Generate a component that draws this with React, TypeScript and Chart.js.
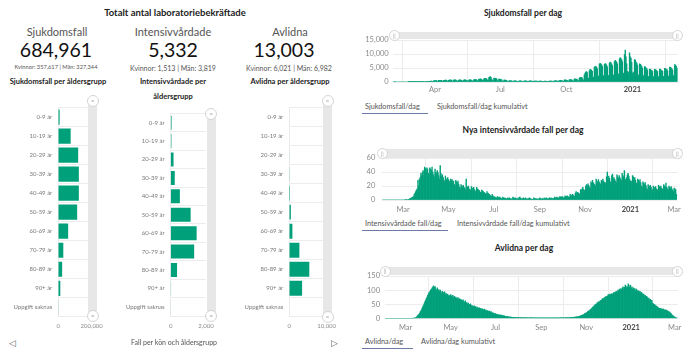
import React, { useEffect, useRef } from "react";
import { Chart, registerables } from "chart.js";
Chart.register(...registerables);

const FONT = "Lato, 'Open Sans', sans-serif";
const GREEN = "#00a07b";
const GRID = "#ececec";
const TICK = "#8a8a8a";

// ---------- age group data ----------
const ageGroups = ["0-9 år", "10-19 år", "20-29 år", "30-39 år", "40-49 år", "50-59 år", "60-69 år", "70-79 år", "80-89 år", "90+ år", "Uppgift saknas"];
const casesByAge = [8000, 74000, 119000, 123000, 123000, 113000, 59000, 30000, 23000, 12000, 1000];
const icuByAge = [50, 40, 160, 230, 520, 1130, 1470, 1330, 360, 20, 10];
const deathsByAge = [10, 10, 20, 60, 190, 420, 830, 2700, 5350, 3420, 5];

// ---------- daily data (first value = 2020-02-01, day 31 counted from 2020-01-01) ----------
const firstDay = 31;
const casesPerDay = [
  0, 0, 0, 0, 1, 0, 0,
  0, 0, 0, 0, 0, 0, 0,
  0, 0, 0, 0, 0, 0, 0,
  0, 0, 1, 2, 4, 3, 5,
  6, 4, 14, 25, 40, 55, 60,
  45, 40, 110, 160, 180, 150, 130,
  80, 70, 160, 170, 180, 160, 150,
  130, 110, 220, 260, 280, 300, 320,
  250, 200, 420, 480, 500, 520, 480,
  300, 260, 560, 600, 640, 620, 560,
  300, 260, 560, 640, 700, 680, 620,
  330, 290, 640, 720, 760, 720, 650,
  330, 300, 680, 740, 760, 700, 500,
  320, 300, 650, 720, 740, 700, 620,
  330, 300, 680, 750, 760, 720, 640,
  340, 320, 700, 760, 780, 740, 600,
  360, 340, 760, 820, 860, 820, 760,
  450, 420, 950, 1050, 1100, 1050, 950,
  550, 480, 1150, 1250, 1300, 1250, 1150,
  650, 600, 1600, 1800, 1900, 1700, 1000,
  500, 450, 1300, 1400, 1350, 1200, 1100,
  450, 400, 1000, 1050, 980, 900, 800,
  300, 250, 650, 700, 650, 600, 520,
  220, 180, 450, 480, 450, 420, 380,
  180, 160, 380, 400, 380, 350, 320,
  170, 150, 360, 400, 380, 360, 330,
  170, 150, 370, 410, 400, 370, 340,
  160, 150, 360, 390, 380, 350, 320,
  160, 140, 340, 370, 360, 330, 300,
  150, 130, 300, 330, 320, 300, 270,
  140, 120, 280, 310, 300, 280, 260,
  150, 130, 320, 360, 350, 330, 300,
  180, 160, 400, 440, 430, 410, 380,
  220, 200, 520, 580, 560, 530, 480,
  280, 250, 680, 740, 720, 680, 620,
  320, 290, 800, 860, 840, 800, 720,
  380, 350, 1000, 1100, 1080, 1000, 900,
  500, 450, 1400, 1600, 1700, 1650, 1500,
  800, 750, 2600, 3200, 3500, 3700, 3400,
  1400, 1300, 4000, 4500, 4400, 4200, 3800,
  1800, 1700, 5200, 5600, 5500, 5300, 4800,
  2200, 2000, 6400, 6700, 6500, 6200, 5600,
  2300, 2100, 6300, 6600, 6400, 6000, 5400,
  2400, 2200, 6800, 7100, 6900, 6500, 5900,
  2600, 2400, 7300, 7700, 7500, 7100, 6500,
  2900, 2700, 8300, 8700, 8400, 8000, 7200,
  3200, 3000, 9800, 11400, 9000, 6500, 3800,
  2600, 3500, 10400, 9000, 8500, 7000, 3000,
  3500, 3300, 8000, 7800, 7200, 6800, 6000,
  2600, 2400, 6500, 6300, 6000, 5500, 5000,
  2300, 2100, 5500, 5300, 5100, 4800, 4300,
  2000, 1800, 4600, 4500, 4300, 4100, 3800,
  1900, 1800, 4500, 4400, 4300, 4000, 3700,
  1900, 1700, 4600, 4500, 4300, 4100, 3800,
  2000, 1800, 4900, 4800, 4600, 4400, 4000,
  2100, 1900, 5300, 5200, 5000, 4700, 4300,
  2300, 2100, 6200, 6000, 5600, 5000,
];
const icuPerDay = [
  0, 0, 0, 0, 0, 0, 0,
  0, 0, 0, 0, 0, 0, 0,
  0, 0, 0, 0, 0, 0, 0,
  0, 0, 0, 0, 0, 0, 0,
  0, 0, 0, 0, 1, 0, 1,
  0, 1, 1, 2, 2, 3, 3,
  4, 5, 8, 10, 12, 14, 16,
  28, 20, 30, 32, 38, 35, 40,
  42, 35, 47, 45, 40, 46, 44,
  38, 36, 46, 44, 42, 47, 40,
  36, 33, 44, 40, 38, 42, 39,
  35, 30, 49, 38, 34, 36, 32,
  28, 26, 34, 30, 28, 32, 29,
  27, 25, 30, 28, 29, 26, 27,
  22, 20, 28, 26, 24, 27, 22,
  18, 16, 22, 20, 19, 21, 18,
  17, 15, 30, 19, 18, 20, 16,
  15, 14, 19, 17, 16, 18, 15,
  13, 12, 18, 16, 15, 14, 13,
  11, 10, 14, 13, 12, 11, 10,
  9, 8, 12, 10, 9, 8, 7,
  6, 5, 8, 6, 5, 4, 4,
  3, 3, 5, 4, 3, 4, 3,
  2, 2, 4, 3, 2, 3, 2,
  2, 1, 3, 2, 3, 2, 2,
  1, 2, 4, 3, 2, 3, 2,
  2, 1, 3, 2, 4, 3, 2,
  1, 2, 3, 2, 2, 3, 1,
  2, 1, 2, 3, 2, 2, 1,
  1, 1, 3, 2, 2, 1, 2,
  1, 1, 2, 3, 2, 1, 2,
  2, 1, 3, 2, 2, 3, 2,
  1, 2, 3, 2, 3, 2, 2,
  2, 2, 4, 3, 3, 4, 3,
  3, 2, 5, 4, 4, 5, 4,
  3, 3, 6, 5, 5, 6, 5,
  4, 4, 8, 7, 6, 8, 7,
  6, 5, 10, 12, 9, 11, 10,
  9, 8, 15, 14, 16, 18, 15,
  14, 13, 20, 22, 19, 23, 21,
  18, 17, 26, 24, 28, 25, 23,
  22, 20, 30, 27, 25, 29, 26,
  24, 22, 28, 26, 30, 27, 25,
  25, 23, 33, 40, 28, 34, 31,
  26, 24, 35, 37, 30, 32, 29,
  27, 25, 36, 33, 31, 35, 32,
  30, 28, 38, 35, 33, 42, 30,
  28, 32, 36, 38, 34, 30, 27,
  27, 26, 35, 33, 30, 32, 28,
  24, 22, 30, 28, 26, 29, 25,
  20, 18, 26, 24, 22, 25, 21,
  17, 15, 22, 20, 19, 21, 18,
  15, 14, 20, 18, 17, 19, 16,
  15, 14, 21, 19, 18, 20, 17,
  16, 14, 22, 20, 19, 24, 18,
  16, 15, 20, 18, 17, 19, 16,
  14, 12, 17, 16, 15, 8,
];
const deathsPerDay = [
  0, 0, 0, 0, 0, 0, 0,
  0, 0, 0, 0, 0, 0, 0,
  0, 0, 0, 0, 0, 0, 0,
  0, 0, 0, 0, 0, 0, 0,
  0, 0, 0, 0, 0, 0, 0,
  0, 0, 0, 0, 1, 0, 1,
  2, 4, 6, 9, 12, 15, 19,
  24, 28, 34, 40, 46, 52, 58,
  64, 70, 76, 82, 88, 92, 96,
  100, 104, 108, 112, 115, 110, 113,
  104, 100, 108, 98, 102, 96, 100,
  94, 90, 96, 92, 88, 94, 86,
  88, 84, 86, 80, 82, 78, 84,
  80, 76, 82, 74, 78, 72, 76,
  72, 70, 74, 68, 70, 66, 68,
  64, 62, 66, 60, 58, 62, 56,
  56, 52, 54, 50, 48, 52, 46,
  46, 44, 42, 45, 40, 42, 38,
  40, 38, 36, 38, 34, 36, 32,
  34, 32, 30, 33, 28, 30, 26,
  28, 26, 24, 26, 22, 24, 20,
  20, 19, 18, 16, 17, 15, 14,
  14, 13, 12, 13, 11, 12, 10,
  10, 9, 9, 8, 8, 7, 7,
  6, 6, 5, 5, 5, 4, 4,
  4, 3, 4, 3, 3, 3, 3,
  3, 2, 3, 3, 2, 3, 2,
  2, 3, 2, 2, 3, 2, 2,
  2, 2, 2, 3, 2, 2, 2,
  2, 1, 2, 2, 2, 1, 2,
  1, 2, 2, 1, 2, 2, 1,
  2, 1, 2, 2, 1, 2, 2,
  1, 2, 1, 2, 2, 1, 2,
  2, 1, 2, 2, 2, 2, 1,
  2, 2, 2, 3, 2, 2, 2,
  2, 3, 2, 3, 3, 2, 3,
  3, 3, 4, 3, 4, 4, 5,
  5, 5, 6, 6, 7, 7, 8,
  9, 10, 11, 12, 14, 15, 17,
  18, 20, 22, 24, 26, 27, 30,
  32, 34, 38, 40, 42, 46, 48,
  50, 52, 56, 55, 60, 58, 62,
  64, 66, 70, 68, 72, 74, 76,
  78, 76, 80, 84, 82, 86, 84,
  86, 88, 84, 90, 92, 88, 94,
  96, 92, 100, 98, 104, 100, 106,
  102, 108, 112, 104, 110, 118, 114,
  108, 112, 122, 116, 110, 118, 106,
  112, 104, 108, 102, 106, 98, 104,
  100, 96, 98, 94, 96, 90, 92,
  88, 84, 86, 80, 82, 76, 78,
  74, 70, 72, 66, 68, 62, 64,
  54, 52, 50, 48, 46, 44, 42,
  40, 38, 36, 35, 36, 33, 32,
  34, 32, 30, 31, 28, 30, 27,
  24, 25, 22, 20, 18, 14, 10,
  9, 7, 5, 3, 2, 1,
];

// month ticks: day numbers counted from 2020-01-01
const casesTickDays = [91, 182, 274, 366];
const casesTickLabels = ["Apr", "Jul", "Oct", "2021"];
const wideTickDays = [60, 121, 182, 244, 305, 366, 425];
const wideTickLabels = ["Mar", "May", "Jul", "Sep", "Nov", "2021", "Mar"];

const fmt = (v: number) => Number(v).toLocaleString("en-US");

type Area = { left: number; top: number; right: number; bottom: number };

function HBar(props: { left: number; top: number; width: number; height: number; area: Area; values: number[]; max: number; barPct: number }) {
  const ref = useRef<HTMLCanvasElement>(null);
  const { left, top, width, height, area, values, max, barPct } = props;
  useEffect(() => {
    const chart = new Chart(ref.current as HTMLCanvasElement, {
      type: "bar",
      data: {
        labels: ageGroups,
        datasets: [{ data: values, backgroundColor: GREEN, barPercentage: barPct, categoryPercentage: 1, borderWidth: 0 }],
      },
      options: {
        indexAxis: "y",
        animation: false,
        responsive: false,
        events: [],
        layout: { padding: { left: 0, top: area.top, right: width - area.right, bottom: 0 } },
        plugins: { legend: { display: false }, tooltip: { enabled: false } },
        scales: {
          x: {
            type: "linear",
            min: 0,
            max,
            afterBuildTicks: (ax: any) => {
              ax.ticks = [{ value: 0 }, { value: max }];
            },
            afterFit: (s: any) => {
              s.height = height - area.bottom;
            },
            ticks: { callback: (v: any) => fmt(v), font: { family: FONT, size: 6 }, color: TICK, padding: -2, maxRotation: 0, autoSkip: false },
            grid: { display: false },
            border: { display: false },
          },
          y: {
            afterFit: (s: any) => {
              s.width = area.left;
            },
            ticks: { font: { family: FONT, size: 6 }, color: "#7a7a7a", padding: 6, autoSkip: false },
            grid: { color: GRID, drawTicks: false, offset: true },
            border: { color: GRID },
          },
        },
      } as any,
    });
    return () => chart.destroy();
  }, []);
  return <canvas ref={ref} width={width} height={height} style={{ position: "absolute", left, top, width, height }} />;
}

function TimeBar(props: {
  left: number; top: number; width: number; height: number; area: Area; values: number[]; yMax: number; yStep: number;
  tickDays: number[]; tickLabels: string[]; yPad: number; xPad: number;
}) {
  const ref = useRef<HTMLCanvasElement>(null);
  const { left, top, width, height, area, values, yMax, yStep, tickDays, tickLabels, yPad, xPad } = props;
  useEffect(() => {
    const chart = new Chart(ref.current as HTMLCanvasElement, {
      type: "bar",
      data: {
        datasets: [
          {
            data: values.map((v, i) => ({ x: firstDay + i, y: v })),
            backgroundColor: GREEN,
            barPercentage: 1,
            categoryPercentage: 1,
            borderWidth: 0,
          },
        ],
      },
      options: {
        animation: false,
        responsive: false,
        events: [],
        layout: { padding: { left: 0, top: area.top, right: width - area.right, bottom: 0 } },
        plugins: { legend: { display: false }, tooltip: { enabled: false } },
        scales: {
          x: {
            type: "linear",
            min: 32,
            max: 429.5,
            offset: false,
            afterBuildTicks: (ax: any) => {
              ax.ticks = tickDays.map((d) => ({ value: d }));
            },
            afterFit: (s: any) => {
              s.height = height - area.bottom;
            },
            ticks: {
              callback: (v: any) => {
                const i = tickDays.indexOf(v);
                return i >= 0 ? tickLabels[i] : null;
              },
              font: (ctx: any) => ({ family: FONT, size: 7.5, weight: ctx.tick && ctx.tick.value === 366 ? "bold" : "normal" }),
              color: (ctx: any) => (ctx.tick && ctx.tick.value === 366 ? "#444" : TICK),
              padding: xPad,
              maxRotation: 0,
              autoSkip: false,
            },
            grid: { color: GRID, drawTicks: false },
            border: { display: false },
          },
          y: {
            min: 0,
            max: yMax,
            afterFit: (s: any) => {
              s.width = area.left;
            },
            ticks: { stepSize: yStep, callback: (v: any) => fmt(v), font: { family: FONT, size: 7.5 }, color: TICK, padding: yPad },
            grid: { color: GRID, drawTicks: false },
            border: { display: false },
          },
        },
      } as any,
    });
    return () => chart.destroy();
  }, []);
  return <canvas ref={ref} width={width} height={height} style={{ position: "absolute", left, top, width, height }} />;
}

function T(props: { x: number; y: number; text: string; size: number; weight?: number; color?: string; anchor?: "center" | "left" }) {
  const { x, y, text, size, weight = 400, color = "#333", anchor = "center" } = props;
  return (
    <div
      style={{
        position: "absolute",
        left: x,
        top: y,
        transform: anchor === "center" ? "translate(-50%, -50%)" : "translate(0, -50%)",
        whiteSpace: "nowrap",
        fontFamily: FONT,
        fontSize: size,
        fontWeight: weight,
        color,
        lineHeight: 1,
      }}
    >
      {text}
    </div>
  );
}

function Handle(props: { cx: number; cy: number; d: number; glyph: string }) {
  const { cx, cy, d, glyph } = props;
  return (
    <div
      style={{
        position: "absolute",
        left: cx - d / 2,
        top: cy - d / 2,
        width: d - 2,
        height: d - 2,
        borderRadius: "50%",
        background: "#fff",
        border: "1px solid #d4d4d4",
        display: "flex",
        alignItems: "center",
        justifyContent: "center",
        fontFamily: FONT,
        fontSize: 6,
        color: "#aaa",
        lineHeight: 1,
      }}
    >
      {glyph}
    </div>
  );
}

function VScroll(props: { x1: number; x2: number; y1: number; y2: number }) {
  const { x1, x2, y1, y2 } = props;
  const cx = (x1 + x2) / 2;
  return (
    <>
      <div style={{ position: "absolute", left: x1, top: y1, width: x2 - x1, height: y2 - y1, background: "#e7e7e7" }} />
      <Handle cx={cx} cy={y1 + 1} d={12} glyph="=" />
      <Handle cx={cx} cy={y2} d={12} glyph="=" />
    </>
  );
}

function HScroll(props: { x1: number; x2: number; y1: number; y2: number; h1: number; h2: number }) {
  const { x1, x2, y1, y2, h1, h2 } = props;
  const cy = (y1 + y2) / 2;
  return (
    <>
      <div style={{ position: "absolute", left: x1, top: y1, width: x2 - x1, height: y2 - y1, background: "#e7e7e7" }} />
      <Handle cx={h1} cy={cy} d={11} glyph="||" />
      <Handle cx={h2} cy={cy} d={11} glyph="||" />
    </>
  );
}

function Tab(props: { x: number; y: number; text: string; text2: string; x2: number; w: number }) {
  const { x, y, text, text2, x2, w } = props;
  return (
    <>
      <T x={x + 3} y={y} text={text} size={7.3} color="#555" anchor="left" />
      <div style={{ position: "absolute", left: x, top: y + 5.5, width: w, height: 1.5, background: "#6c7aa6" }} />
      <T x={x2} y={y} text={text2} size={7.3} color="#555" anchor="left" />
    </>
  );
}

export default function App() {
  return (
    <div style={{ position: "absolute", left: 0, top: 0, width: 700, height: 350, background: "#fff", overflow: "hidden" }}>
      {/* ---------- left panel ---------- */}
      <T x={175} y={13} text="Totalt antal laboratoriebekräftade" size={9.5} weight={700} color="#222" />
      <T x={57} y={31} text="Sjukdomsfall" size={11} weight={400} color="#555" />
      <T x={173} y={31} text="Intensivvårdade" size={11} weight={400} color="#555" />
      <T x={290} y={31} text="Avlidna" size={11} weight={400} color="#555" />
      <T x={56} y={50} text="684,961" size={19.5} color="#111" />
      <T x={173} y={50} text="5,332" size={19.5} color="#111" />
      <T x={284} y={50} text="13,003" size={19.5} color="#111" />
      <T x={56} y={67} text="Kvinnor: 357,617 | Män: 327,344" size={5.7} color="#555" />
      <T x={173} y={68} text="Kvinnor: 1,513 | Män: 3,819" size={7} color="#555" />
      <T x={289} y={68} text="Kvinnor: 6,021 | Män: 6,982" size={7} color="#555" />
      <T x={58} y={82} text="Sjukdomsfall per åldersgrupp" size={7.5} weight={700} color="#222" />
      <T x={173} y={82} text="Intensivvårdade per" size={7.5} weight={700} color="#222" />
      <T x={173} y={96.5} text="åldersgrupp" size={7.5} weight={700} color="#222" />
      <T x={290} y={82} text="Avlidna per åldersgrupp" size={7.5} weight={700} color="#222" />

      <HBar left={0} top={98} width={112} height={236} area={{ left: 58.3, top: 3.2, right: 91.7, bottom: 218.8 }} values={casesByAge} max={200000} barPct={0.8} />
      <HBar left={110} top={98} width={118} height={236} area={{ left: 60.7, top: 15.5, right: 96, bottom: 218 }} values={icuByAge} max={2000} barPct={0.76} />
      <HBar left={228} top={98} width={120} height={236} area={{ left: 61.3, top: 3.2, right: 98.7, bottom: 218.8 }} values={deathsByAge} max={10000} barPct={0.78} />

      <VScroll x1={88.3} x2={97.3} y1={100} y2={316} />
      <VScroll x1={206.7} x2={216} y1={113.3} y2={316} />
      <VScroll x1={323.3} x2={331.7} y1={100} y2={316.5} />

      <T x={12} y={342} text="◁" size={9} color="#666" />
      <T x={174} y={342} text="Fall per kön och åldersgrupp" size={7} color="#555" />
      <T x={334} y={342} text="▷" size={9} color="#666" />

      {/* ---------- right panel ---------- */}
      <T x={523} y={13} text="Sjukdomsfall per dag" size={8.5} weight={700} color="#222" />
      <TimeBar left={350} top={28} width={345} height={70} area={{ left: 42.7, top: 12, right: 328, bottom: 54 }}
        values={casesPerDay} yMax={15000} yStep={5000} tickDays={casesTickDays} tickLabels={casesTickLabels} yPad={4} xPad={3} />
      <HScroll x1={390} x2={680} y1={31.7} y2={39.3} h1={394.3} h2={677.3} />
      <Tab x={362} y={107} text="Sjukdomsfall/dag" text2="Sjukdomsfall/dag kumulativt" x2={437} w={66} />

      <T x={523} y={130} text="Nya intensivvårdade fall per dag" size={8.5} weight={700} color="#222" />
      <TimeBar left={350} top={146} width={345} height={70} area={{ left: 32.3, top: 12, right: 327.5, bottom: 54 }}
        values={icuPerDay} yMax={60} yStep={20} tickDays={wideTickDays} tickLabels={wideTickLabels} yPad={7} xPad={5} />
      <HScroll x1={380} x2={681.7} y1={149.3} y2={157.7} h1={382.3} h2={677.3} />
      <Tab x={362} y={224} text="Intensivvårdade fall/dag" text2="Intensivvårdade fall/dag kumulativt" x2={457} w={86} />

      <T x={524} y={248} text="Avlidna per dag" size={8.5} weight={700} color="#222" />
      <TimeBar left={350} top={264} width={345} height={70} area={{ left: 35, top: 12, right: 328, bottom: 54.5 }}
        values={deathsPerDay} yMax={150} yStep={50} tickDays={wideTickDays} tickLabels={wideTickLabels} yPad={5} xPad={4.5} />
      <HScroll x1={382.7} x2={681} y1={267.3} y2={275} h1={385} h2={677.3} />
      <Tab x={362} y={342} text="Avlidna/dag" text2="Avlidna/dag kumulativt" x2={421} w={51} />
    </div>
  );
}
